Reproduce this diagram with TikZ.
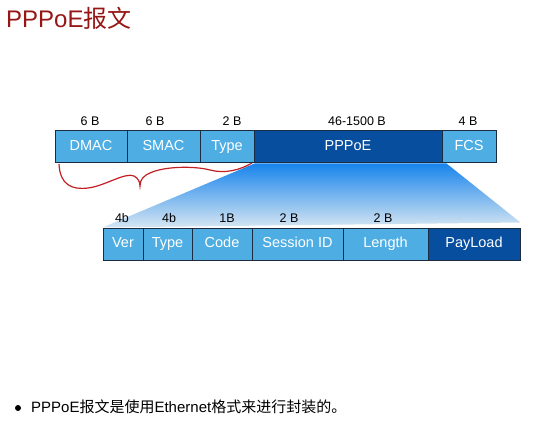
\documentclass[tikz,border=0pt]{standalone}
\usepackage{fontspec}
\setmainfont{Liberation Sans}
\newfontfamily\cjk{Noto Sans CJK SC}
\usetikzlibrary{backgrounds}
\definecolor{fieldblue}{RGB}{78,174,228}
\definecolor{payblue}{RGB}{8,78,158}
\definecolor{edgeblue}{RGB}{28,44,64}
\definecolor{titlered}{RGB}{150,22,22}
\definecolor{bracered}{RGB}{192,32,36}
\definecolor{fadetop}{RGB}{24,132,236}
\definecolor{fadebot}{RGB}{214,230,242}
\tikzset{
  field/.style={draw=edgeblue,line width=1pt,fill=fieldblue,text=white,
    minimum height=32pt,inner sep=0pt,text height=10.5pt,text depth=3pt,
    font=\fontsize{14.5}{16}\selectfont},
  payfield/.style={field,fill=payblue},
  sizelabel/.style={inner sep=0pt,font=\fontsize{12.5}{14}\selectfont}
}
\begin{document}
\begin{tikzpicture}[x=1pt,y=-1pt]
\useasboundingbox (0,0) rectangle (554,422);
\node[anchor=west,inner sep=0pt,text=titlered,font=\fontsize{24}{28}\selectfont] (title) at (6,18){PPPoE{\cjk 报文}};
% Ethernet frame
\node[field,minimum width=72pt] (DMAC) at (91,147){DMAC};
\node[field,minimum width=73pt] (SMAC) at (163.5,147){SMAC};
\node[field,minimum width=54pt] (Type) at (227,147){Type};
\node[payfield,minimum width=188pt] (PPPoE) at (348,147){PPPoE};
\node[field,minimum width=54pt] (FCS) at (469,147){FCS};
\node[sizelabel] (sDMAC) at (90,121){6 B};
\node[sizelabel] (sSMAC) at (155,121){6 B};
\node[sizelabel] (sType) at (232,121){2 B};
\node[sizelabel] (sPPPoE) at (357,121){46-1500 B};
\node[sizelabel] (sFCS) at (468,121){4 B};
% PPPoE header
\node[field,minimum width=40pt] (Ver) at (123,244){Ver};
\node[field,minimum width=49pt] (Typ) at (167.5,244){Type};
\node[field,minimum width=60pt] (Code) at (222,244){Code};
\node[field,minimum width=91pt] (Sess) at (297.5,244){Session ID};
\node[field,minimum width=85pt] (Len) at (385.5,244){Length};
\node[payfield,minimum width=92pt] (Pay) at (474,244){PayLoad};
\node[sizelabel] (sVer) at (122,218){4b};
\node[sizelabel] (sTyp) at (169,218){4b};
\node[sizelabel] (sCode) at (227,218){1B};
\node[sizelabel] (sSess) at (289,218){2 B};
\node[sizelabel] (sLen) at (383,218){2 B};
% expansion and brace behind the fields
\begin{scope}[on background layer]
\shade[top color=fadetop,bottom color=fadebot] (Type.south east) -- ([xshift=5pt]FCS.south west) -- ([yshift=5pt]Pay.north east) -- (Ver.north west) -- cycle;
\coordinate (bl) at (59,164);
\coordinate (br) at (252,163);
\draw[bracered,line width=1.2pt] (bl) .. controls (60,185) and (72,190) .. (88,188)
  .. controls (105,186) and (125,172) .. (134,176) .. controls (138,178) and (140,182) .. (140,186)
  .. controls (140,180) and (143,176) .. (150,173) .. controls (165,166) and (195,166) .. (210,170)
  .. controls (225,174) and (240,170) .. (br);
\end{scope}
\node[circle,fill=black,minimum size=6pt,inner sep=0pt] (dot) at (18,408){};
\node[anchor=west,inner sep=0pt,font=\fontsize{15}{18}\selectfont] (note) at (31,407){PPPoE{\cjk 报文是使用}Ethernet{\cjk 格式来进行封装的。}};
\end{tikzpicture}
\end{document}
